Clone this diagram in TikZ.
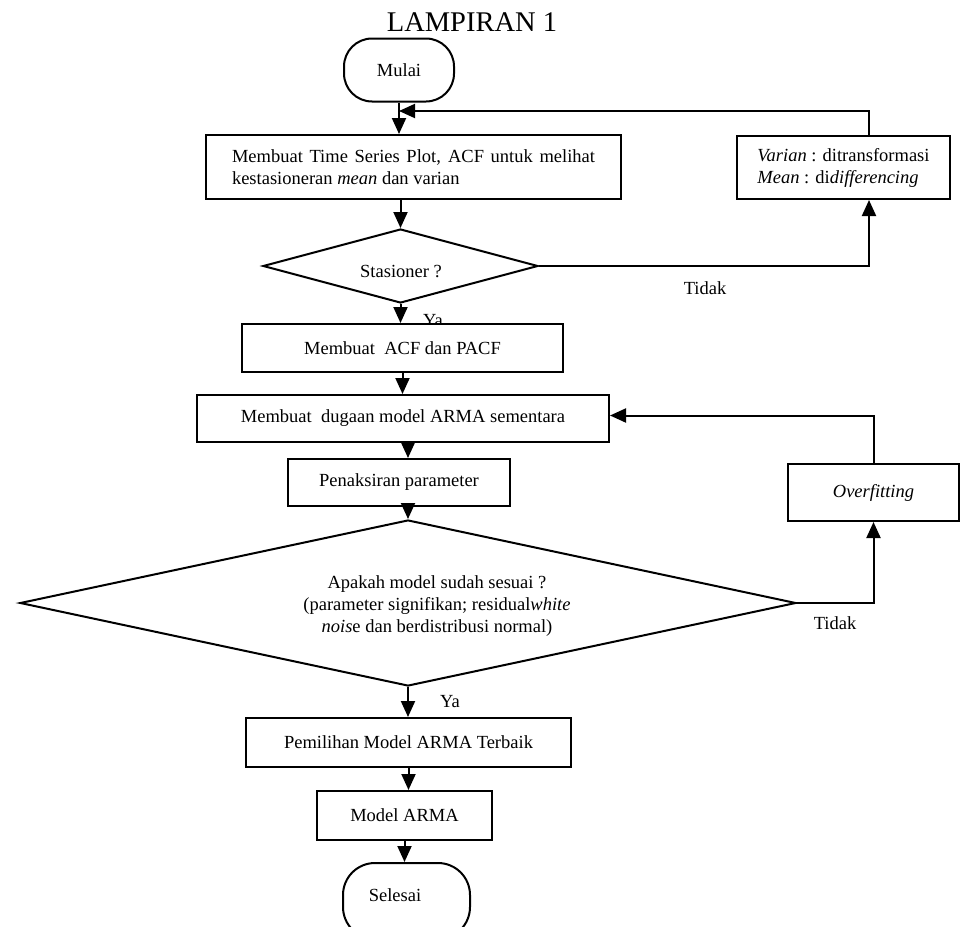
\documentclass[tikz,border=0pt]{standalone}
\usepackage{fontspec}
\setmainfont{Liberation Serif}
\usetikzlibrary{arrows.meta,shapes.geometric,calc}
\begin{document}
\begin{tikzpicture}[x=1pt,y=-1pt,
  every node/.style={font=\fontsize{18.5}{22}\selectfont},
  box/.style={draw, fill=white, line width=2pt, inner sep=0pt},
  term/.style={draw, fill=white, line width=2pt, rounded corners=28pt, inner sep=0pt},
  dia/.style={draw, line width=2pt, shape=diamond, inner sep=0pt},
  arr/.style={line width=2pt, -{Triangle[length=16pt,width=14pt]}},
  lab/.style={inner sep=0pt}]
\useasboundingbox (0,0) rectangle (966,926);
% labels drawn first (partly covered by boxes)
\node[lab] (ya1) at (433,321) {Ya};
\node[lab, font=\fontsize{28.5}{32}\selectfont] (title) at (472,22) {LAMPIRAN 1};
% nodes
\node[term, minimum width=110pt, minimum height=63pt] (mulai) at (399,70) {Mulai};
\node[box, minimum width=415pt, minimum height=64pt, text width=363pt, align=justify, inner xsep=26pt] (b1) at (413.5,167) {Membuat Time Series Plot, ACF untuk melihat kestasioneran \textit{mean} dan varian};
\node[box, minimum width=213pt, minimum height=63pt, align=left] (b2) at (843.5,167.5) {\textit{Varian} : ditransformasi\\\textit{Mean} : di\textit{differencing}};
\node[dia, minimum width=275pt, minimum height=74pt] (d1) at (400.5,266) {};
\node[lab] (stas) at (401,272) {Stasioner ?};
\node[box, minimum width=321pt, minimum height=48pt] (b3) at (402.5,348) {Membuat\ \ ACF dan PACF};
\node[box, minimum width=412pt, minimum height=47pt] (b4) at (403,418.5) {Membuat\ \ dugaan model ARMA sementara};
\node[box, minimum width=222pt, minimum height=47pt] (b5) at (399,482.5) {Penaksiran parameter};
\node[box, minimum width=171pt, minimum height=57pt] (ov) at (873.5,492.5) {\textit{Overfitting}};
\node[dia, minimum width=776pt, minimum height=166pt] (d2) at (408,603) {};
\node[lab, align=center] (d2t) at (437,606) {Apakah model sudah sesuai ?\\(parameter signifikan; residual\textit{white}\\\textit{nois}e dan berdistribusi normal)};
\node[box, minimum width=325pt, minimum height=49pt] (b6) at (408.5,742.5) {Pemilihan Model ARMA Terbaik};
\node[box, minimum width=175pt, minimum height=49pt] (b7) at (404.5,815.5) {Model ARMA};
\node[term, minimum width=127pt, minimum height=76pt, rounded corners=32pt] (sel) at (406.5,901) {};
\node[lab] (selt) at (395,895) {Selesai};
\node[lab] (tidak1) at (705,288) {Tidak};
\node[lab] (tidak2) at (835,623) {Tidak};
\node[lab] (ya2) at (450,702) {Ya};
% connectors
\draw[arr] (mulai.south) -- (mulai.south |- b1.north);
\draw[arr] (b1.south -| d1.north) -- (d1.north);
\draw[arr] (d1.east) -| ([xshift=25.5pt]b2.south);
\draw[arr] ([xshift=25.5pt]b2.north) |- ([yshift=23pt]mulai.south |- b1.north);
\draw[arr] (d1.south) -- (d1.south |- b3.north);
\draw[arr] (b3.south) -- (b3.south |- b4.north);
\draw[arr] (b4.south -| d2.north) -- (b5.north -| d2.north);
\draw[arr] (b5.south -| d2.north) -- (d2.north);
\draw[arr] (d2.east) -| (ov.south);
\draw[arr] (ov.north) |- ([yshift=3pt]b4.east);
\draw[arr] (d2.south) -- (d2.south |- b6.north);
\draw[arr] (b6.south) -- (b6.south |- b7.north);
\draw[arr] (b7.south) -- (b7.south |- sel.north);
\end{tikzpicture}
\end{document}
